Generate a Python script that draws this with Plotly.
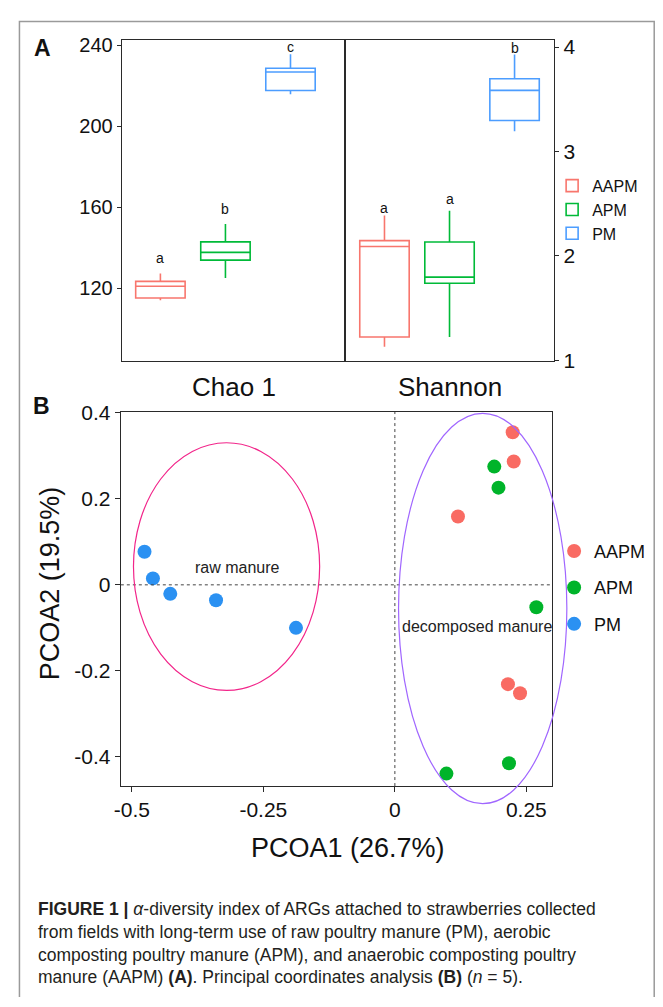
import plotly.graph_objects as go

# The page body keeps the browser's default 8px margin, so the figure is sized
# to fill the 663x1007 window exactly inside that margin.
OFF = 8
PW, PH = 647, 989
FONT = "Liberation Sans, Arial, sans-serif"

# ---------------- data ----------------
groups = ["AAPM", "APM", "PM"]
box_colors = ["#F8766D", "#00BA38", "#4C9DFF"]
point_colors = ["#F96B63", "#00B42A", "#2B91F2"]

# Panel A - Chao 1 (box statistics)
chao_low = [114.0, 125.0, 215.9]
chao_q1 = [115.2, 133.9, 217.7]
chao_med = [121.0, 137.7, 226.9]
chao_q3 = [123.4, 142.9, 228.7]
chao_high = [127.3, 151.8, 235.6]
chao_letters = ["a", "b", "c"]
chao_letter_y = [135.0, 159.2, 239.0]

# Panel A - Shannon
shannon_low = [1.128, 1.222, 3.194]
shannon_q1 = [1.222, 1.737, 3.297]
shannon_med = [2.090, 1.796, 3.585]
shannon_q3 = [2.146, 2.133, 3.697]
shannon_high = [2.386, 2.433, 3.928]
shannon_letters = ["a", "a", "b"]
shannon_letter_y = [2.46, 2.544, 3.988]

chao_ticks = [120, 160, 200, 240]
shannon_ticks = [1, 2, 3, 4]

# Panel B - PCoA scores
pcoa1_aapm = [0.224, 0.226, 0.120, 0.215, 0.238]
pcoa2_aapm = [0.355, 0.287, 0.159, -0.231, -0.252]
pcoa1_apm = [0.189, 0.197, 0.269, 0.098, 0.217]
pcoa2_apm = [0.275, 0.226, -0.052, -0.439, -0.415]
pcoa1_pm = [-0.476, -0.460, -0.427, -0.340, -0.188]
pcoa2_pm = [0.077, 0.015, -0.021, -0.036, -0.100]

ellipse_labels = ["raw manure", "decomposed manure"]
ellipse_cx = [-0.320, 0.167]
ellipse_cy = [0.0425, -0.055]
ellipse_rx = [0.177, 0.160]
ellipse_ry = [0.288, 0.454]
ellipse_colors = ["#F2258A", "#A066FF"]
ellipse_label_x = [-0.300, 0.156]
ellipse_label_y = [0.040, -0.096]

pcoa_xticks = [-0.5, -0.25, 0, 0.25]
pcoa_xticktext = ["-0.5", "-0.25", "0", "0.25"]
pcoa_yticks = [-0.4, -0.2, 0, 0.2, 0.4]
pcoa_yticktext = ["-0.4", "-0.2", "0", "0.2", "0.4"]

caption = ("<b>FIGURE 1 |</b> <i>α</i>-diversity index of ARGs attached to strawberries collected<br>"
           "from fields with long-term use of raw poultry manure (PM), aerobic<br>"
           "composting poultry manure (APM), and anaerobic composting poultry<br>"
           "manure (AAPM) <b>(A)</b>. Principal coordinates analysis <b>(B)</b> (<i>n</i> = 5).")


def px(x):
    """window pixel -> paper fraction (horizontal)"""
    return (x - OFF) / PW


def py(y):
    """window pixel -> paper fraction (vertical)"""
    return 1 - (y - OFF) / PH


fig = go.Figure()

# ---------------- panel A boxes ----------------
for i, g in enumerate(groups):
    fig.add_trace(go.Box(
        x=[i + 1], q1=[chao_q1[i]], median=[chao_med[i]], q3=[chao_q3[i]],
        lowerfence=[chao_low[i]], upperfence=[chao_high[i]],
        name=g, legendgroup="A" + g, showlegend=True, legend="legend",
        line=dict(color=box_colors[i], width=1.6), fillcolor="white",
        whiskerwidth=0, width=0.76, boxpoints=False,
        xaxis="x", yaxis="y", hoverinfo="skip"))
for i, g in enumerate(groups):
    fig.add_trace(go.Box(
        x=[i + 1], q1=[shannon_q1[i]], median=[shannon_med[i]], q3=[shannon_q3[i]],
        lowerfence=[shannon_low[i]], upperfence=[shannon_high[i]],
        name=g, legendgroup="A" + g, showlegend=False,
        line=dict(color=box_colors[i], width=1.6), fillcolor="white",
        whiskerwidth=0, width=0.76, boxpoints=False,
        xaxis="x2", yaxis="y2", hoverinfo="skip"))

# ---------------- panel B points ----------------
pc1 = [pcoa1_aapm, pcoa1_apm, pcoa1_pm]
pc2 = [pcoa2_aapm, pcoa2_apm, pcoa2_pm]
for i, g in enumerate(groups):
    fig.add_trace(go.Scatter(
        x=pc1[i], y=pc2[i], mode="markers", name=g,
        legendgroup="B" + g, legend="legend2",
        marker=dict(color=point_colors[i], size=14, line=dict(width=0)),
        xaxis="x3", yaxis="y3", hoverinfo="skip"))

# ---------------- layout / axes ----------------
A_top, A_bot = 29.3, 357.7
A_l, A_mid, A_r = 116, 342, 553
B_l, B_r, B_top, B_bot = 115, 551, 409.3, 791.7
x3_range = [-0.521, 0.299]
y3_range = [-0.468, 0.4025]

# larger invisible axis pair with identical scale so ellipses are not clipped
O_l, O_r, O_top, O_bot = 95, 610, 395, 840
sx = (B_r - B_l) / (x3_range[1] - x3_range[0])
sy = (B_bot - B_top) / (y3_range[1] - y3_range[0])
x4_range = [x3_range[0] - (B_l - O_l) / sx, x3_range[1] + (O_r - B_r) / sx]
y4_range = [y3_range[0] - (O_bot - B_bot) / sy, y3_range[1] + (B_top - O_top) / sy]

line_col = "#2a2a2a"
common = dict(showgrid=False, zeroline=False, showline=True, mirror=True,
              linecolor=line_col, linewidth=1.2)

fig.update_layout(
    width=PW, height=PH,
    margin=dict(l=0, r=0, t=0, b=0),
    paper_bgcolor="white", plot_bgcolor="rgba(0,0,0,0)",
    font=dict(family=FONT, color="#111"),
    xaxis=dict(domain=[px(A_l), px(A_mid)], range=[0.407, 3.844], anchor="y",
               showticklabels=False, ticks="", **common),
    yaxis=dict(domain=[py(A_bot), py(A_top)], range=[83.9, 242.76], anchor="x",
               tickvals=chao_ticks, ticks="outside", ticklen=4, tickcolor=line_col,
               tickfont=dict(size=20, color="#111"), **common),
    xaxis2=dict(domain=[px(A_mid), px(A_r)], range=[0.399, 3.608], anchor="y2",
                showticklabels=False, ticks="", **common),
    yaxis2=dict(domain=[py(A_bot), py(A_top)], range=[0.99, 4.069], anchor="x2",
                side="right", tickvals=shannon_ticks, ticks="outside", ticklen=4,
                tickcolor=line_col, tickfont=dict(size=21, color="#111"), **common),
    xaxis3=dict(domain=[px(B_l), px(B_r)], range=x3_range, anchor="y3",
                tickvals=pcoa_xticks, ticktext=pcoa_xticktext, ticks="outside",
                ticklen=5, tickcolor=line_col, tickfont=dict(size=21, color="#111"), **common),
    yaxis3=dict(domain=[py(B_bot), py(B_top)], range=y3_range, anchor="x3",
                tickvals=pcoa_yticks, ticktext=pcoa_yticktext, ticks="outside",
                ticklen=5, tickcolor=line_col, tickfont=dict(size=21, color="#111"), **common),
    xaxis4=dict(domain=[px(O_l), px(O_r)], range=x4_range, anchor="y4", visible=False),
    yaxis4=dict(domain=[py(O_bot), py(O_top)], range=y4_range, anchor="x4", visible=False),
    legend=dict(x=px(551), y=py(161), xanchor="left", yanchor="top",
                font=dict(size=16, color="#111"), bgcolor="rgba(0,0,0,0)",
                traceorder="grouped", tracegroupgap=0),
    legend2=dict(x=px(553), y=py(533), xanchor="left", yanchor="top",
                 font=dict(size=18, color="#111"), bgcolor="rgba(0,0,0,0)",
                 traceorder="grouped", tracegroupgap=10),
    showlegend=True,
)

shapes = []
# outer figure frame
shapes.append(dict(type="rect", xref="paper", yref="paper",
                   x0=px(12.5), x1=px(654.2), y0=py(1030), y1=py(10.5),
                   line=dict(color="#9a9a9a", width=1.5), layer="below"))
# dotted zero lines of PCoA
shapes.append(dict(type="line", xref="x3", yref="y3 domain", x0=0, x1=0, y0=0, y1=1,
                   line=dict(color="#444", width=1, dash="dot")))
shapes.append(dict(type="line", xref="x3 domain", yref="y3", x0=0, x1=1, y0=0, y1=0,
                   line=dict(color="#444", width=1, dash="dot")))
for i in range(len(ellipse_labels)):
    shapes.append(dict(type="circle", xref="x4", yref="y4",
                       x0=ellipse_cx[i] - ellipse_rx[i], x1=ellipse_cx[i] + ellipse_rx[i],
                       y0=ellipse_cy[i] - ellipse_ry[i], y1=ellipse_cy[i] + ellipse_ry[i],
                       line=dict(color=ellipse_colors[i], width=1.2)))
fig.update_layout(shapes=shapes)

ann = []
for i in range(3):
    ann.append(dict(x=i + 1, y=chao_letter_y[i], xref="x", yref="y", text=chao_letters[i],
                    showarrow=False, xanchor="center", yanchor="middle",
                    font=dict(size=14, color="#111")))
    ann.append(dict(x=i + 1, y=shannon_letter_y[i], xref="x2", yref="y2", text=shannon_letters[i],
                    showarrow=False, xanchor="center", yanchor="middle",
                    font=dict(size=14, color="#111")))
ann.append(dict(x=0.5, y=0, xref="x domain", yref="y domain", xanchor="center",
                yanchor="middle", yshift=-26, text="Chao 1", showarrow=False,
                font=dict(size=26, color="#111")))
ann.append(dict(x=0.5, y=0, xref="x2 domain", yref="y2 domain", xanchor="center",
                yanchor="middle", yshift=-26, text="Shannon", showarrow=False,
                font=dict(size=26, color="#111")))
ann.append(dict(x=px(36), y=py(38), xref="paper", yref="paper", text="<b>A</b>",
                xanchor="center", yanchor="middle", showarrow=False,
                font=dict(size=23, color="#111")))
ann.append(dict(x=px(34.5), y=py(403), xref="paper", yref="paper", text="<b>B</b>",
                xanchor="center", yanchor="middle", showarrow=False,
                font=dict(size=23, color="#111")))
for i in range(len(ellipse_labels)):
    ann.append(dict(x=ellipse_label_x[i], y=ellipse_label_y[i], xref="x3", yref="y3",
                    text=ellipse_labels[i], showarrow=False, xanchor="center", yanchor="middle",
                    font=dict(size=16, color="#222")))
ann.append(dict(x=px(344.5), y=py(855), xref="paper", yref="paper", text="PCOA1 (26.7%)",
                xanchor="center", yanchor="middle", showarrow=False,
                font=dict(size=27, color="#111")))
ann.append(dict(x=px(43), y=py(585), xref="paper", yref="paper", text="PCOA2 (19.5%)",
                xanchor="center", yanchor="middle", textangle=-90, showarrow=False,
                font=dict(size=27, color="#111")))
ann.append(dict(x=px(29), y=py(905), xref="paper", yref="paper", xanchor="left", yanchor="top",
                align="left", text=caption, showarrow=False,
                font=dict(size=17.5, color="#231f20")))
fig.update_layout(annotations=ann)

fig.write_html("out.html", config={"displayModeBar": False})
